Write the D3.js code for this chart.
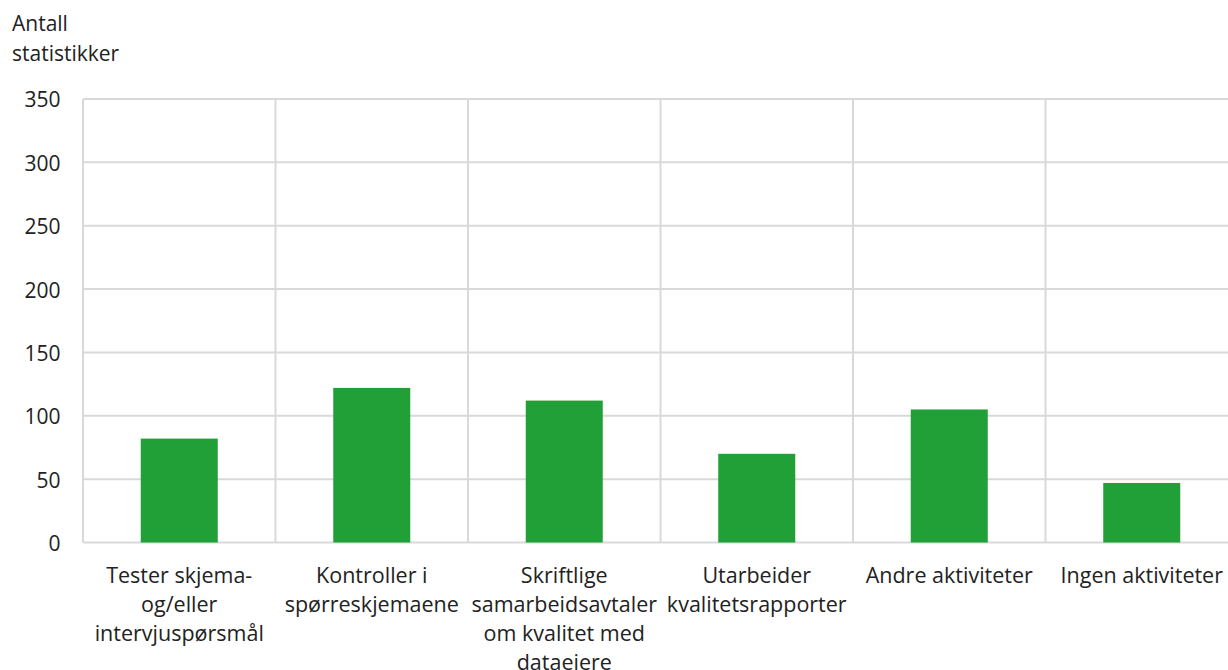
<!DOCTYPE html>
<html><head><meta charset="utf-8">
<script src="https://cdn.jsdelivr.net/npm/d3@7"></script>
<style>body{margin:0;background:#fff}svg{display:block}text{font-family:"Open Sans",sans-serif}</style>
</head><body>
<svg id="c" width="1228" height="670"></svg>
<script>
const categories = [
  "Tester skjema-\nog/eller\nintervjuspørsmål",
  "Kontroller i\nspørreskjemaene",
  "Skriftlige\nsamarbeidsavtaler\nom kvalitet med\ndataeiere",
  "Utarbeider\nkvalitetsrapporter",
  "Andre aktiviteter",
  "Ingen aktiviteter"
];
const values = [82, 122, 112, 70, 105, 47];
const yTicks = [0, 50, 100, 150, 200, 250, 300, 350];
const yTitle = ["Antall", "statistikker"];

const svg = d3.select("#c");
const m = {l: 83, r: 1238, t: 99, b: 542.5};
const x = d3.scaleBand().domain(categories).range([m.l, m.r]).paddingInner(0).paddingOuter(0);
const y = d3.scaleLinear().domain([0, 350]).range([m.b, m.t]);
const grid = "#d9d9d9";

svg.append("g").selectAll("line").data(yTicks).join("line")
  .attr("x1", m.l).attr("x2", m.r)
  .attr("y1", d => y(d)).attr("y2", d => y(d))
  .attr("stroke", grid).attr("stroke-width", 2);
const edges = categories.map(c => x(c)).concat([m.r]);
svg.append("g").selectAll("line").data(edges).join("line")
  .attr("x1", d => d).attr("x2", d => d)
  .attr("y1", m.t).attr("y2", m.b)
  .attr("stroke", grid).attr("stroke-width", 2);

const ya = svg.append("g").attr("transform", `translate(${m.l},0)`)
  .call(d3.axisLeft(y).tickValues(yTicks).tickSize(0).tickPadding(22.5));
ya.select(".domain").remove();
ya.selectAll("text").attr("font-size", 21).attr("fill", "#222").attr("font-family", "Open Sans").attr("dy", "0.38em");

const bw = x.bandwidth() * 0.4;
svg.append("g").selectAll("rect").data(values).join("rect")
  .attr("x", (d, i) => x(categories[i]) + (x.bandwidth() - bw) / 2)
  .attr("width", bw)
  .attr("y", d => y(d))
  .attr("height", d => y(0) - y(d))
  .attr("fill", "#21a038");

const xa = svg.append("g").attr("transform", `translate(0,${m.b})`)
  .call(d3.axisBottom(x).tickSize(0).tickFormat(""));
xa.select(".domain").remove();
xa.selectAll(".tick").each(function(d) {
  const t = d3.select(this).append("text")
    .attr("text-anchor", "middle").attr("font-size", 21.5).attr("fill", "#222");
  d.split("\n").forEach((s, i) => {
    t.append("tspan").attr("x", 0).attr("y", 40.5 + i * 29).text(s);
  });
});

const tt = svg.append("text").attr("font-size", 21).attr("fill", "#222");
yTitle.forEach((s, i) => tt.append("tspan").attr("x", 12).attr("y", 30.5 + i * 30).text(s));
</script>
</body></html>
